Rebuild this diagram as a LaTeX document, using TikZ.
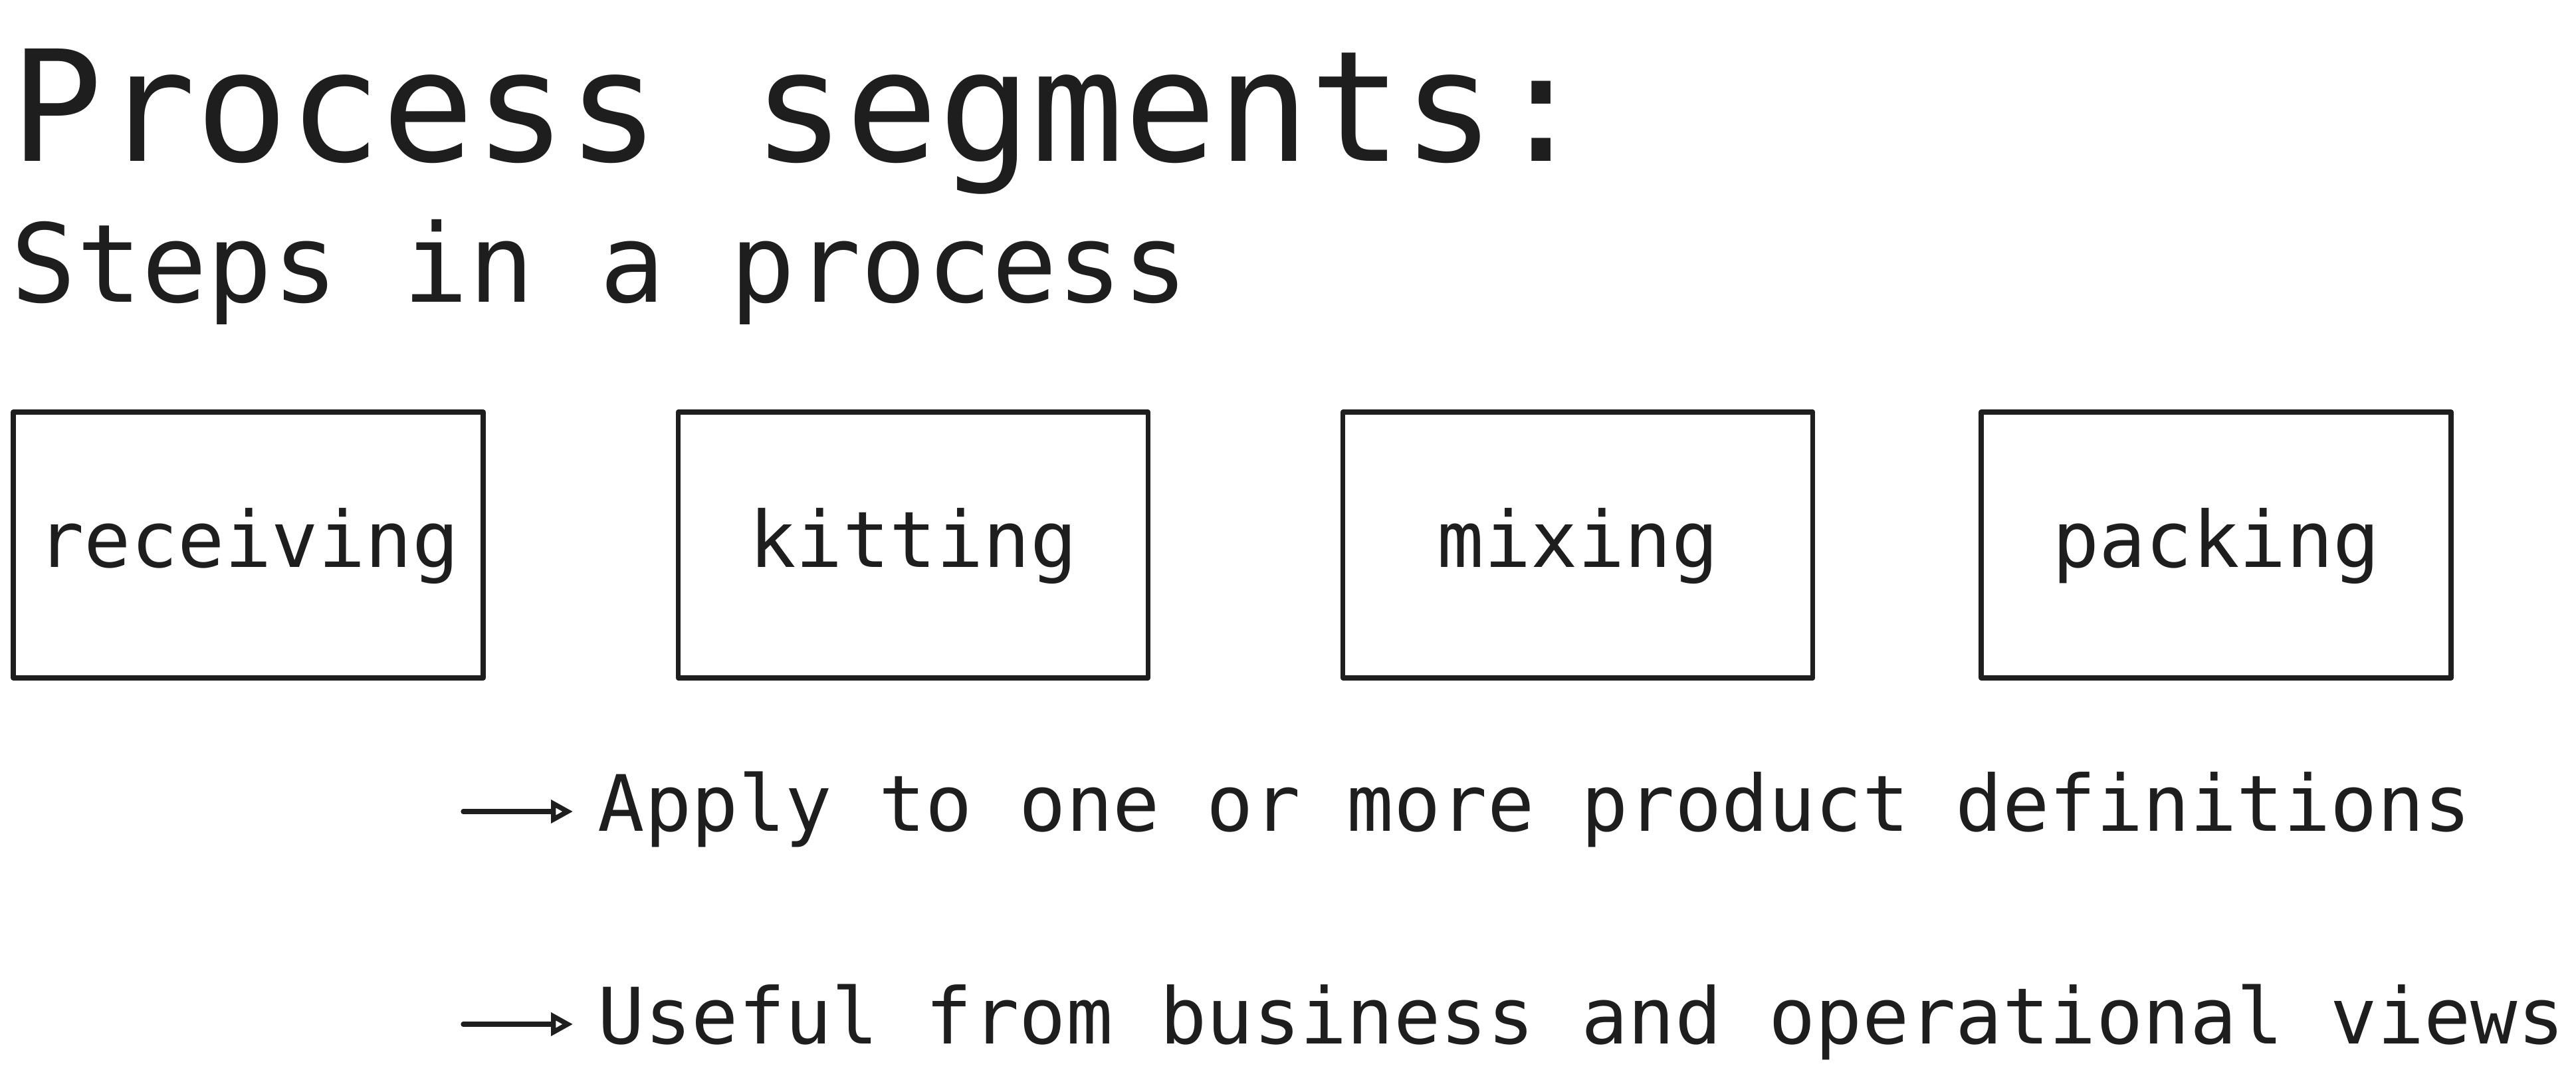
\documentclass[tikz,border=0pt]{standalone}
\usepackage{fontspec}
\usetikzlibrary{positioning,arrows.meta}
\newfontfamily\handfont{DejaVu Sans Mono}
\definecolor{PSInk}{RGB}{30,30,30}

\begin{document}
\begin{tikzpicture}[>={Triangle[open,length=0.33cm,width=0.34cm]},line width=2.1pt,line cap=round,line join=round,
  ttl/.style={anchor=base west,inner sep=0pt,text=PSInk,font=\handfont\fontsize{66}{70}\selectfont},
  subttl/.style={anchor=base west,inner sep=0pt,text=PSInk,font=\handfont\fontsize{46.5}{50}\selectfont},
  segbox/.style={draw=PSInk,minimum width=7.07cm,minimum height=4cm,text=PSInk,
    font=\handfont\fontsize{33.3}{36}\selectfont,text height=26pt,text depth=7.2pt},
  note/.style={anchor=west,inner xsep=0.34cm,inner ysep=0.4mm,text=PSInk,font=\handfont\fontsize{33.3}{36}\selectfont,
    text height=24pt,text depth=7.5pt}]
\useasboundingbox (0,0) rectangle (38.76,-16.4);
\node[ttl] (title) at (0.12,-2.43) {Process segments:};
\node[subttl] (subtitle) at (0.13,-4.55) {Steps in a process};
% the four segments
\node[segbox] (recv) at (3.735,-8.2) {receiving};
\node[segbox,right=2.86cm of recv] (kit) {kitting};
\node[segbox,right=2.86cm of kit] (mix) {mixing};
\node[segbox,right=2.46cm of mix] (pack) {packing};
% notes
\coordinate (n1) at (6.97,-12.21);\coordinate (n2) at (6.97,-15.41);
\node[note] (apply) at (8.62,-12.21) {Apply to one or more product definitions};
\node[note] (useful) at (8.62,-15.41) {Useful from business and operational views};
\draw[->,PSInk] (n1)--(apply.west);\draw[->,PSInk] (n2)--(useful.west);
\end{tikzpicture}
\end{document}
